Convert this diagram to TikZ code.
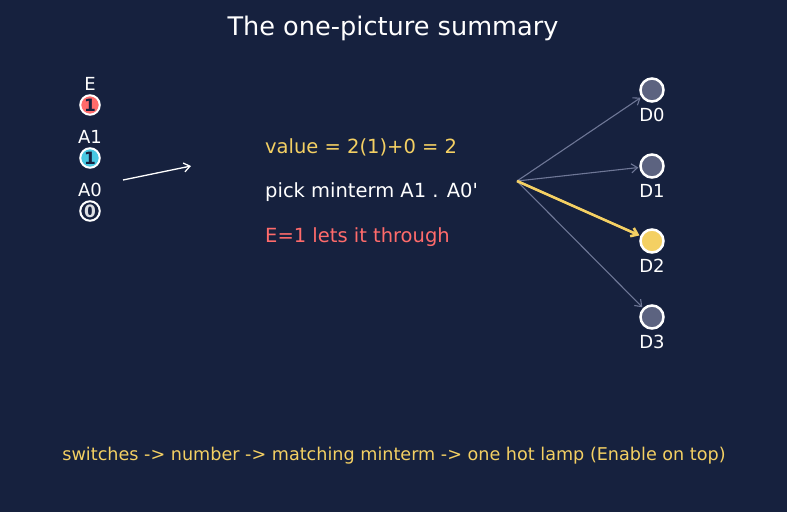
\documentclass[tikz,border=0pt]{standalone}
\usepackage{fontspec}
\setmainfont{DejaVu Sans}[Ligatures=TeXOff]
\usepackage{tikz}
\usetikzlibrary{arrows.meta,positioning}
\definecolor{sumbg}{RGB}{22,33,62}
\definecolor{sumyellow}{RGB}{244,208,99}
\definecolor{sumred}{RGB}{255,107,107}
\definecolor{sumcyan}{RGB}{72,200,226}
\definecolor{sumgray}{RGB}{92,99,128}
\definecolor{sumwire}{RGB}{110,119,150}

\tikzset{
  bit/.style={draw=white, circle, line width=2pt, minimum size=19.5pt, inner sep=0pt, font=\fontsize{17}{17}\selectfont\bfseries},
  lamp/.style={draw=white, circle, line width=2.5pt, fill=sumgray, minimum size=23pt, inner sep=0pt},
  tag/.style={text=white, font=\fontsize{18}{18}\selectfont, inner sep=0pt},
  wire/.style={sumwire, line width=1.1pt, -{Straight Barb[length=6pt,width=9pt]}, shorten >=1pt}
}

\begin{document}
\begin{tikzpicture}[x=1pt, y=-1pt]
  \fill[sumbg] (0,0) rectangle (787,512);
  \useasboundingbox (0,0) rectangle (787,512);
  \node[text=white, font=\fontsize{25.6}{26}\selectfont] (title) at (393,28.5) {The one-picture summary};
  % input switches
  \node[bit, fill=sumred, text=sumbg] (e) at (90,105) {1};
  \node[bit, fill=sumcyan, text=sumbg] (a1) at (90,158) {1};
  \node[bit, fill=sumbg, text=white!85!sumbg] (a0) at (90,211) {0};
  \node[tag, above=3.5pt of e] {E};
  \node[tag, above=3.5pt of a1] {A1};
  \node[tag, above=3.5pt of a0] {A0};
  \coordinate (in) at (123,180);
  \coordinate (out) at (191,166);
  \draw[white, line width=1.3pt, -{Straight Barb[length=6pt,width=9pt]}] (in) -- (out);
  % reasoning
  \node[anchor=west, inner sep=0pt, text=sumyellow, font=\fontsize{19.5}{20}\selectfont] (val) at (265,147.5) {value = 2(1)+0 = 2};
  \node[anchor=west, inner sep=0pt, text=white, font=\fontsize{19.5}{20}\selectfont] (pick) at (265,192.5) {pick minterm A1 . A0'};
  \node[anchor=west, inner sep=0pt, text=sumred, font=\fontsize{19.5}{20}\selectfont] (en) at (265,237.5) {E=1 lets it through};
  % output lamps
  \coordinate (fan) at (517,181);
  \node[lamp] (d0) at (652,90) {};
  \node[lamp] (d1) at (652,166) {};
  \node[lamp, fill=sumyellow] (d2) at (652,241) {};
  \node[lamp] (d3) at (652,317) {};
  \foreach \i in {0,...,3}
    \node[tag, below=5pt of d\i] {D\i};
  \draw[wire] (fan) -- (d0);
  \draw[wire] (fan) -- (d1);
  \draw[wire] (fan) -- (d3);
  \draw[wire, sumyellow, line width=2.6pt] (fan) -- (d2);
  \node[text=sumyellow, font=\fontsize{17.6}{18}\selectfont] (note) at (394,456) {switches -> number -> matching minterm -> one hot lamp (Enable on top)};
\end{tikzpicture}
\end{document}
